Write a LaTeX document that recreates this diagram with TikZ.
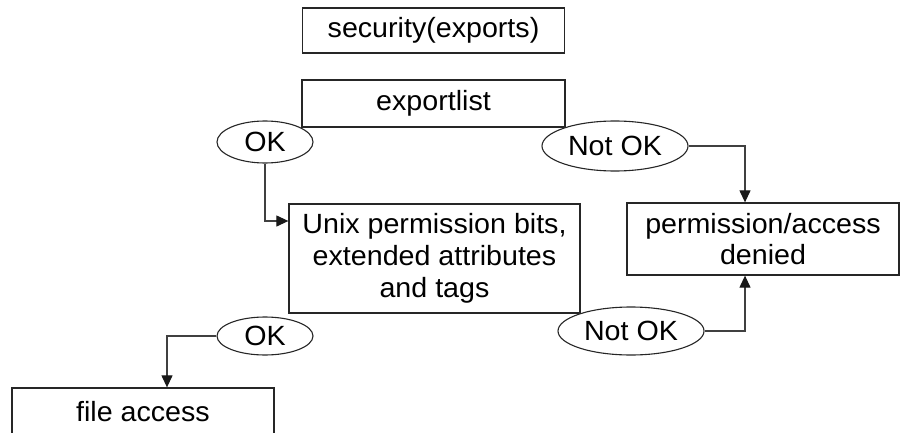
\documentclass[tikz,border=0pt]{standalone}
\usepackage{fontspec}
\setmainfont[FakeStretch=1.03]{Liberation Sans}
\usetikzlibrary{arrows.meta,shapes.geometric,calc}
\begin{document}
\begin{tikzpicture}[x=1pt,y=-1pt,
  box/.style={draw=black!85, line width=1.3pt, rectangle, inner sep=0pt, align=center, fill=white},
  oval/.style={draw=black!85, line width=1.1pt, ellipse, inner sep=0pt, fill=white},
  conn/.style={draw=black!75, line width=1.2pt, -{Triangle[length=12pt,width=11pt,color=black!90]}},
  font=\fontsize{27.8}{31.7}\selectfont]
\useasboundingbox (0,0) rectangle (904,433);
\clip (0,0) rectangle (904,433);
\node[box, minimum width=262pt, minimum height=45pt] (sec) at (433.5,30.5) {security(exports)};
\node[box, minimum width=263pt, minimum height=47pt] (exp) at (433.5,103.5) {exportlist};
\node[box, minimum width=291pt, minimum height=109pt] (unix) at (434.5,258.5) {Unix permission bits,\\extended attributes\\and tags};
\node[box, minimum width=272pt, minimum height=72pt] (perm) at (763,239) {permission/access\\denied};
\node[box, minimum width=262pt, minimum height=47pt] (file) at (143,411.5) {file access};
\node[oval, minimum width=96pt, minimum height=42pt] (ok1) at (265,142) {OK};
\node[oval, minimum width=146pt, minimum height=50pt] (nok1) at (615,146) {Not OK};
\node[oval, minimum width=96pt, minimum height=38pt] (ok2) at (265,336) {OK};
\node[oval, minimum width=146pt, minimum height=48pt] (nok2) at (631,331) {Not OK};
\draw[conn] (ok1.south) |- ([yshift=37.5pt]unix.west);
\draw[conn] (nok1.east) -| ([xshift=-18pt]perm.north);
\draw[conn] (nok2.east) -| ([xshift=-18pt]perm.south);
\draw[conn] (ok2.west) -| ([xshift=24pt]file.north);
\end{tikzpicture}
\end{document}
